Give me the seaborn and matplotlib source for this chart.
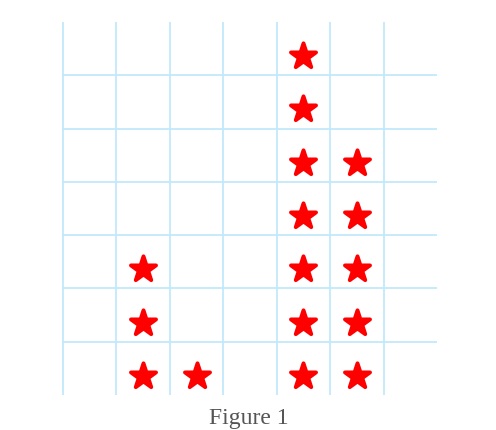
import matplotlib
matplotlib.use("Agg")
import matplotlib.pyplot as plt
import seaborn as sns
import pandas as pd

# Data: number of stars stacked in each column
columns = [0, 1, 2, 3, 4, 5, 6]
counts = [0, 3, 1, 0, 7, 5, 0]
caption = "Figure 1"

rows = []
for c, n in zip(columns, counts):
    for i in range(n):
        rows.append({"x": c + 0.5, "y": i + 0.36})
df = pd.DataFrame(rows)

sns.set_theme(style="white")
fig = plt.figure(figsize=(4.96, 4.30), dpi=100)
ax = fig.add_axes([62 / 496, 35 / 430, 375 / 496, 373 / 430])

sns.scatterplot(data=df, x="x", y="y", marker="*", s=360, color="#ff0000",
                edgecolor="#ff0000", linewidth=2.8, ax=ax, zorder=3)
for coll in ax.collections:
    coll.set_joinstyle("round")

ax.set_xlim(-0.02, 7)
ax.set_ylim(0, 7)
ax.set_xticks(columns)
ax.set_yticks([1, 2, 3, 4, 5, 6])
ax.set_xticklabels([])
ax.set_yticklabels([])
ax.tick_params(length=0)
ax.set_xlabel("")
ax.set_ylabel("")
for s in ax.spines.values():
    s.set_visible(False)
ax.grid(True, color="#c2e9fb", linewidth=1.3)
ax.set_axisbelow(True)

fig.text(249 / 496, 1 / 430, caption, ha="center", va="bottom",
         fontsize=17, family="Liberation Serif", color="#555555")

fig.savefig("out.png", dpi=100)
